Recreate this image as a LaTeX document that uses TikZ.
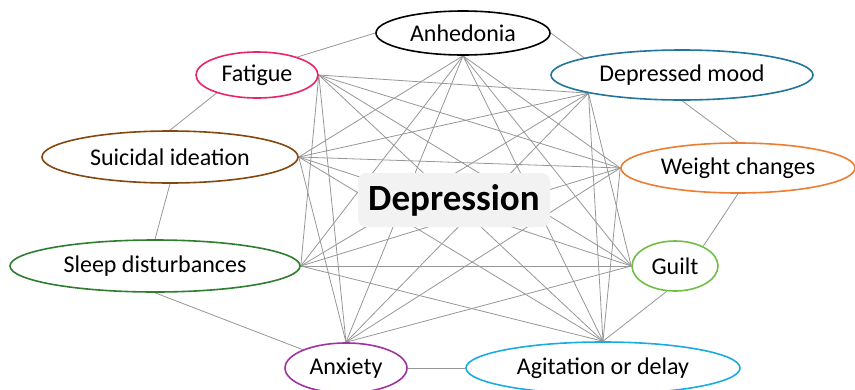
\documentclass[tikz,border=0pt]{standalone}
\usepackage{fontspec}
\setmainfont{Carlito}
\usetikzlibrary{shapes.geometric,backgrounds}
\definecolor{cAn}{RGB}{0,0,0}
\definecolor{cFa}{RGB}{232,37,107}
\definecolor{cDm}{RGB}{33,117,155}
\definecolor{cSu}{RGB}{132,72,15}
\definecolor{cWc}{RGB}{237,125,49}
\definecolor{cSl}{RGB}{47,125,47}
\definecolor{cGu}{RGB}{112,191,68}
\definecolor{cAx}{RGB}{160,51,160}
\definecolor{cAg}{RGB}{26,172,224}
\definecolor{edgegray}{RGB}{150,150,150}
\definecolor{boxgray}{RGB}{242,242,242}
\tikzset{
  symp/.style={ellipse, draw=#1, line width=1.6pt, fill=white, inner sep=0pt,
    font=\fontsize{24}{28}\selectfont},
  link/.style={draw=edgegray, line width=0.8pt},
  centerbox/.style={rounded corners=8pt, fill=boxgray, inner sep=0pt,
    minimum width=192pt, minimum height=54pt, font=\fontsize{37}{42}\selectfont\bfseries}
}
\begin{document}
\begin{tikzpicture}[x=1pt,y=-1pt]
\useasboundingbox (0,0) rectangle (855,389);
\node[symp=cAn, minimum width=174pt, minimum height=44pt] (an) at (463,33) {Anhedonia};
\node[symp=cFa, minimum width=122pt, minimum height=46pt] (fa) at (257,75) {Fatigue};
\node[symp=cDm, minimum width=262pt, minimum height=50pt] (dm) at (682,75) {Depressed mood};
\node[symp=cSu, minimum width=256pt, minimum height=52pt] (su) at (170,157) {Suicidal ideation};
\node[symp=cWc, minimum width=234pt, minimum height=50pt] (wc) at (738,168) {Weight changes};
\node[symp=cSl, minimum width=290pt, minimum height=52pt] (sl) at (155,266) {Sleep disturbances};
\node[symp=cGu, minimum width=86pt, minimum height=50pt] (gu) at (675,266) {Guilt};
\node[symp=cAx, minimum width=122pt, minimum height=50pt] (ax) at (346,368) {Anxiety};
\node[symp=cAg, minimum width=274pt, minimum height=52pt] (ag) at (603,368) {Agitation or delay};
\coordinate (hAn) at (an.south);
\coordinate (hFa) at (fa.east);
\coordinate (hDm) at (dm.191);
\coordinate (hSu) at (su.east);
\coordinate (hWc) at (wc.west);
\coordinate (hSl) at (sl.east);
\coordinate (hGu) at (gu.west);
\coordinate (hAx) at (ax.north);
\coordinate (hAg) at (ag.north);
\begin{scope}[on background layer]
% ring connections
\draw[link] (an.west) -- (fa.24);
\draw[link] (an.east) -- (dm.170);
\draw[link] (dm.south) -- (wc.north);
\draw[link] (wc.south) -- (gu.35);
\draw[link] (gu.252) -- (hAg);
\draw[link] (ag.west) -- (ax.east);
\draw[link] (ax.157) -- (sl.south);
\draw[link] (sl.north) -- (su.south);
\draw[link] (su.north) -- (fa.204);
% hub connections (non-adjacent pairs)
\foreach \a/\b in {hAn/hWc,hAn/hGu,hAn/hAg,hAn/hAx,hAn/hSl,hAn/hSu,
  hDm/hGu,hDm/hAg,hDm/hAx,hDm/hSl,hDm/hSu,hDm/hFa,
  hWc/hAg,hWc/hAx,hWc/hSl,hWc/hSu,hWc/hFa,
  hGu/hAx,hGu/hSl,hGu/hSu,hGu/hFa,
  hAg/hSl,hAg/hSu,hAg/hFa,
  hAx/hSu,hAx/hFa,
  hSl/hFa}
  \draw[link] (\a) -- (\b);
\end{scope}
\node[centerbox] (dep) at (454,200) {Depression};
\end{tikzpicture}
\end{document}
